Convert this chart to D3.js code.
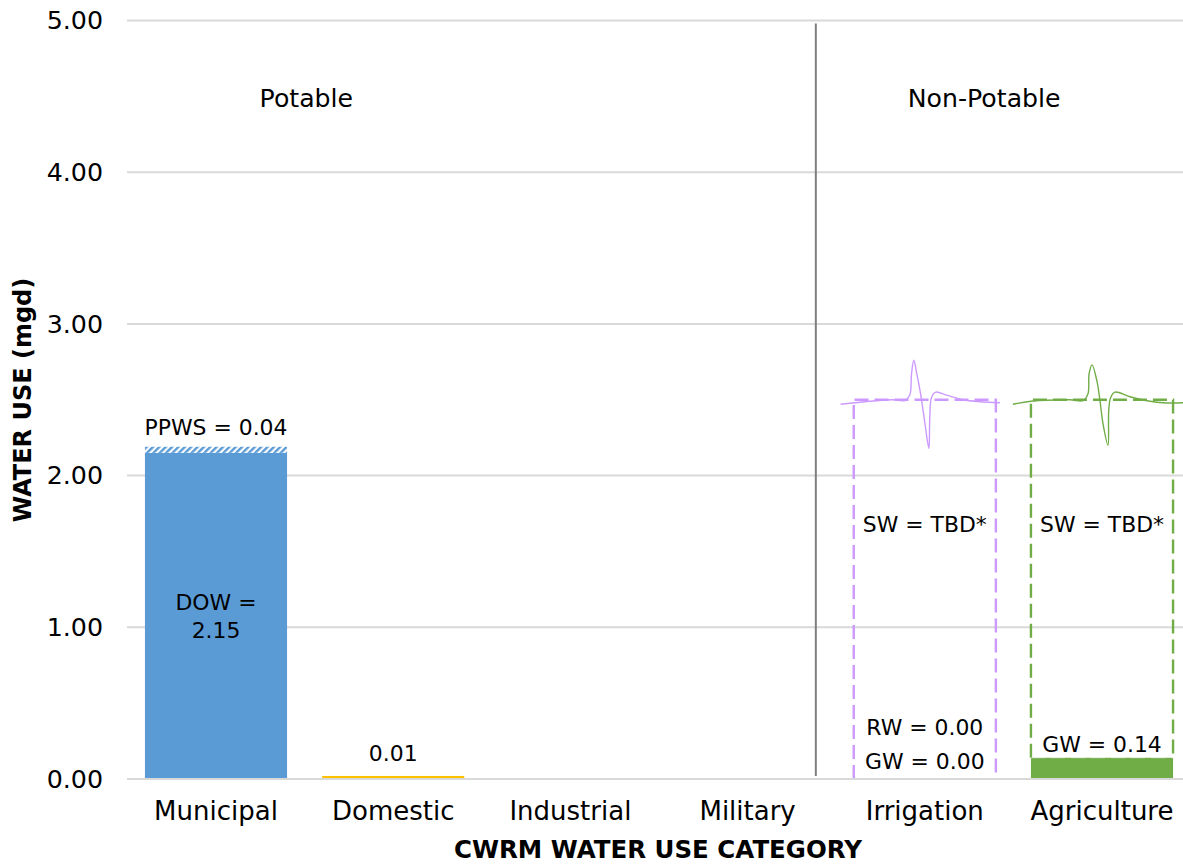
<!DOCTYPE html>
<html><head><meta charset="utf-8">
<script src="https://cdn.jsdelivr.net/npm/d3@7"></script>
<style>html,body{margin:0;background:#fff;overflow:hidden}text{font-family:"DejaVu Sans",sans-serif;fill:#000}</style>
</head><body><svg id="c" width="1183" height="865"></svg>
<script>
const categories=["Municipal","Domestic","Industrial","Military","Irrigation","Agriculture"];
const yTicks=[0,1,2,3,4,5];
const solidBars=[["Municipal",0,2.15,"#5b9bd5"],["Domestic",0,0.02,"#ffc000"],["Agriculture",0,0.14,"#70ad47"]];
const hatchBars=[["Municipal",2.15,2.19]];
const dashedBars=[["Irrigation",0,2.5,"#cc99ff"],["Agriculture",0.14,2.5,"#70ad47"]];
const faintEdges=[["Irrigation",0,"#cc99ff"],["Agriculture",0.14,"#ffffff"]];
const labels=[["Municipal",0,2.31,"PPWS = 0.04"],["Municipal",0,1.155,"DOW ="],["Municipal",0,0.97,"2.15"],["Domestic",0,0.16,"0.01"],
["Irrigation",0,1.67,"SW = TBD*"],["Irrigation",0,0.335,"RW = 0.00"],["Irrigation",0,0.11,"GW = 0.00"],
["Agriculture",0,1.67,"SW = TBD*"],["Agriculture",0,0.22,"GW = 0.14"]];
const regionLabels=[["Municipal",0.51,4.48,"Potable"],["Irrigation",0.335,4.48,"Non-Potable"]];
const dividerCat=["Military",0.385];
const dividerRange=[0.02,4.98];
const squiggleIrrigation=[[-0.475,2.47],[-0.311,2.49],[-0.181,2.5],[-0.113,2.495],[-0.085,2.53],[-0.075,2.67],[-0.062,2.76],[-0.045,2.67],[-0.024,2.54],[0,2.35],[0.023,2.18],[0.028,2.38],[0.038,2.515],[0.062,2.55],[0.123,2.53],[0.215,2.5],[0.311,2.487],[0.424,2.48]];
const squiggleAgriculture=[[-0.503,2.47],[-0.401,2.49],[-0.181,2.5],[-0.107,2.495],[-0.079,2.54],[-0.073,2.67],[-0.056,2.73],[-0.028,2.62],[-0.011,2.49],[0.006,2.34],[0.034,2.2],[0.038,2.43],[0.049,2.515],[0.073,2.55],[0.158,2.52],[0.271,2.49],[0.345,2.48],[0.458,2.48]];

const svg=d3.select("#c");
const x=d3.scaleBand().domain(categories).range([127.4,1190.6]).paddingInner(0.198).paddingOuter(0.099);
const y=d3.scaleLinear().domain([0,5]).range([779,20.5]);
const step=x.step();
const cx=c=>x(c)+x.bandwidth()/2;
const FS=25.3;

const defs=svg.append("defs");
const pat=defs.append("pattern").attr("id","hatch").attr("width",4.5).attr("height",4.5).attr("patternUnits","userSpaceOnUse").attr("patternTransform","rotate(45)");
pat.append("rect").attr("width",4.5).attr("height",4.5).attr("fill","#fff");
pat.append("rect").attr("width",2.4).attr("height",4.5).attr("fill","#5b9bd5");

const yAxis=d3.axisLeft(y).tickValues(yTicks).tickFormat(d3.format(".2f")).tickSize(0).tickPadding(24);
const gy=svg.append("g").attr("transform","translate(127,0)").call(yAxis);
gy.select(".domain").remove();
gy.selectAll("text").style("font-size",FS+"px").style("font-family",'"DejaVu Sans"').attr("fill","#000");
svg.append("g").selectAll("line").data(yTicks.slice(1)).join("line")
 .attr("x1",127).attr("x2",1183).attr("y1",d=>y(d)).attr("y2",d=>y(d)).attr("stroke","#d9d9d9").attr("stroke-width",2);
const xAxis=d3.axisBottom(x).tickSize(0).tickPadding(24);
const gx=svg.append("g").attr("transform","translate(0,778)").call(xAxis);
gx.select(".domain").remove();
gx.selectAll("text").style("font-size","26px").style("font-family",'"DejaVu Sans"').attr("fill","#000");

const dx=cx(dividerCat[0])+dividerCat[1]*step;
svg.append("line").attr("x1",dx).attr("x2",dx).attr("y1",y(dividerRange[1])).attr("y2",y(dividerRange[0])).attr("stroke","#7f7f7f").attr("stroke-width",2);

svg.append("g").selectAll("rect").data(solidBars).join("rect")
 .attr("x",d=>x(d[0])).attr("width",x.bandwidth()).attr("y",d=>y(d[2])).attr("height",d=>y(d[1])-y(d[2])).attr("fill",d=>d[3]);
svg.append("g").selectAll("rect").data(hatchBars).join("rect")
 .attr("x",d=>x(d[0])).attr("width",x.bandwidth()).attr("y",d=>y(d[2])).attr("height",d=>y(d[1])-y(d[2])).attr("fill","url(#hatch)");
const outline=d=>{const l=x(d[0]),r=l+x.bandwidth(),b=y(d[1]),t=y(d[2]);return d3.line()([[l,b],[l,t],[r,t],[r,b]]);};
svg.append("g").selectAll("path").data(dashedBars).join("path").attr("d",outline)
 .attr("fill","none").attr("stroke",d=>d[3]).attr("stroke-width",2.4).attr("stroke-dasharray","14 6");
svg.append("g").selectAll("line").data(faintEdges).join("line")
 .attr("x1",d=>x(d[0])).attr("x2",d=>x(d[0])+x.bandwidth()).attr("y1",d=>y(d[1])).attr("y2",d=>y(d[1]))
 .attr("stroke",d=>d[2]).attr("stroke-width",1.2).attr("stroke-opacity",0.45).attr("stroke-dasharray","14 6");
svg.append("line").datum(0).attr("x1",127).attr("x2",1183).attr("y1",d=>y(d)).attr("y2",d=>y(d)).attr("stroke","#d9d9d9").attr("stroke-width",2);

const line=d3.line().curve(d3.curveCatmullRom.alpha(0.5));
[[squiggleIrrigation,"Irrigation","#cc99ff"],[squiggleAgriculture,"Agriculture","#70ad47"]].forEach(([pts,c,col])=>{
 svg.append("path").attr("d",line(pts.map(p=>[cx(c)+p[0]*step,y(p[1])]))).attr("fill","none").attr("stroke",col).attr("stroke-width",1.4);
});

svg.append("g").selectAll("text").data(labels).join("text").attr("x",d=>cx(d[0])+d[1]*step).attr("y",d=>y(d[2]))
 .attr("text-anchor","middle").attr("dy","0.3em").style("font-size","21.9px").text(d=>d[3]);
svg.append("g").selectAll("text").data(regionLabels).join("text").attr("x",d=>cx(d[0])+d[1]*step).attr("y",d=>y(d[2]))
 .attr("text-anchor","middle").attr("dy","0.3em").style("font-size","25.2px").text(d=>d[3]);

svg.append("text").attr("x",658).attr("y",858).attr("text-anchor","middle").style("font-size","24.5px").style("font-weight","bold").text("CWRM WATER USE CATEGORY");
svg.append("text").attr("transform","translate(31,400) rotate(-90)").attr("text-anchor","middle").style("font-size","24px").style("font-weight","bold").text("WATER USE (mgd)");
</script></body></html>
